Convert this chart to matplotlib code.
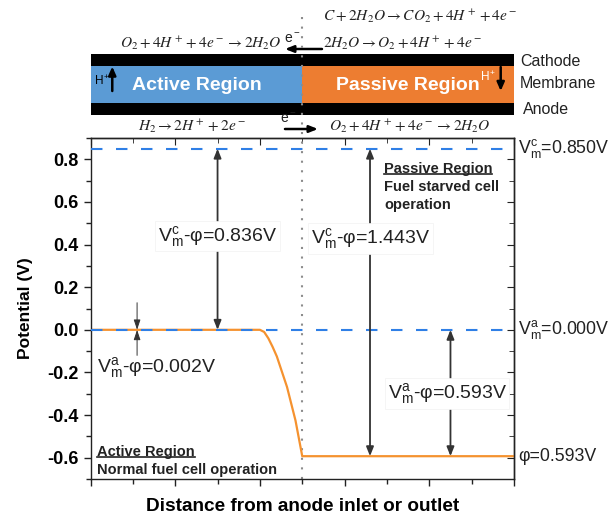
import matplotlib
matplotlib.use('Agg')
import matplotlib.pyplot as plt
from matplotlib.patches import Rectangle
from matplotlib.lines import Line2D
from matplotlib.ticker import MultipleLocator, FormatStrFormatter

plt.rcParams['font.family'] = ['Liberation Sans', 'DejaVu Sans']
plt.rcParams['mathtext.fontset'] = 'custom'
plt.rcParams['mathtext.rm'] = 'Liberation Sans'
plt.rcParams['mathtext.it'] = 'Liberation Sans:italic'
plt.rcParams['mathtext.bf'] = 'Liberation Sans:bold'
plt.rcParams['axes.unicode_minus'] = False

# ---------------- data ----------------
distance = [0.0, 2.0, 2.05, 2.10, 2.15, 2.20, 2.32, 2.42, 2.50, 5.0]
potential = [0.0, 0.0, -0.010, -0.040, -0.080, -0.125, -0.268, -0.425, -0.593, -0.593]
vm_cathode = 0.850
vm_anode = 0.000
phi = -0.593
boundary = 2.5
x_range = (0.0, 5.0)
y_range = (-0.7, 0.9)

gap_x = [1.5, 3.3, 4.25]
gap_top = [vm_cathode, vm_cathode, vm_anode]
gap_bottom = [vm_anode, phi, phi]
gap_labels = [r'$\mathregular{V_m^c}$-φ=0.836V',
              r'$\mathregular{V_m^c}$-φ=1.443V',
              r'$\mathregular{V_m^a}$-φ=0.593V']
gap_label_x = [1.5, 3.31, 4.21]
gap_label_y = [0.44, 0.43, -0.30]

small_gap_x = 0.55
small_gap_label = r'$\mathregular{V_m^a}$-φ=0.002V'

right_labels = [r'$\mathregular{V_m^c}$=0.850V', r'$\mathregular{V_m^a}$=0.000V', 'φ=0.593V']
right_label_y = [vm_cathode, vm_anode, phi]

passive_title = 'Passive Region'
passive_lines = ['Fuel starved cell', 'operation']
active_title = 'Active Region'
active_lines = ['Normal fuel cell operation']

eq_cath_active = r'$O_2+4H^+ +4e^-\rightarrow 2H_2O$'
eq_cath_passive1 = r'$C+2H_2O\rightarrow CO_2+4H^+ +4e^-$'
eq_cath_passive2 = r'$2H_2O\rightarrow O_2+4H^+ +4e^-$'
eq_anode_active = r'$H_2\rightarrow 2H^+ +2e^-$'
eq_anode_passive = r'$O_2+4H^+ +4e^-\rightarrow 2H_2O$'
layer_names = ['Cathode', 'Membrane', 'Anode']

BLUE_DASH = '#2F7FE6'
ORANGE_LINE = '#F5922F'
BLUE_FILL = '#5B9BD5'
ORANGE_FILL = '#ED7D31'
DOT_GRAY = '#8c8c8c'
TXT = '#222222'

# ---------------- figure ----------------
W_PX, H_PX = 613, 517
fig = plt.figure(figsize=(W_PX / 100, H_PX / 100), dpi=100)
L = 90.5 / W_PX
Wd = (514 - 90.5) / W_PX
B = (H_PX - 479) / H_PX
Hd = (479 - 138) / H_PX
ax = fig.add_axes([L, B, Wd, Hd])

ax.plot(distance, potential, color=ORANGE_LINE, lw=1.6, zorder=2)
ax.plot(x_range, [vm_cathode] * 2, color=BLUE_DASH, lw=1.5, dashes=(5.5, 6.5), zorder=3)
ax.plot(x_range, [vm_anode] * 2, color=BLUE_DASH, lw=1.5, dashes=(5.5, 6.5), zorder=3)
ax.axvline(boundary, color=DOT_GRAY, lw=1.5, ls=(0, (1, 3.6)), zorder=1)

ax.set_xlim(*x_range)
ax.set_ylim(*y_range)
ax.xaxis.set_major_locator(MultipleLocator(1))
ax.xaxis.set_minor_locator(MultipleLocator(0.5))
ax.yaxis.set_major_locator(MultipleLocator(0.2))
ax.yaxis.set_minor_locator(MultipleLocator(0.1))
ax.yaxis.set_major_formatter(FormatStrFormatter('%.1f'))
ax.tick_params(axis='x', which='both', labelbottom=False, direction='out', color='#222')
ax.tick_params(axis='y', which='both', direction='out', color='#222')
ax.tick_params(which='major', length=5, width=1)
ax.tick_params(which='minor', length=3.5, width=1)
for lab in ax.get_yticklabels():
    lab.set_fontweight('bold')
    lab.set_fontsize(13)
for s in ax.spines.values():
    s.set_linewidth(1.0)
    s.set_color('#222')

secx = ax.secondary_xaxis('top')
secx.xaxis.set_major_locator(MultipleLocator(1))
secx.xaxis.set_minor_locator(MultipleLocator(0.5))
secx.tick_params(which='both', direction='in', labeltop=False, color='#222')
secx.tick_params(which='major', length=5)
secx.tick_params(which='minor', length=3.5)
secy = ax.secondary_yaxis('right')
secy.yaxis.set_major_locator(MultipleLocator(0.2))
secy.yaxis.set_minor_locator(MultipleLocator(0.1))
secy.tick_params(which='both', direction='in', labelright=False, color='#222')
secy.tick_params(which='major', length=5)
secy.tick_params(which='minor', length=3.5)
for sa in (secx, secy):
    for s in sa.spines.values():
        s.set_linewidth(1.0)
        s.set_color('#222')

ax.set_ylabel('Potential (V)', fontsize=12.5, fontweight='bold', labelpad=10)
ax.set_xlabel('Distance from anode inlet or outlet', fontsize=13.7, fontweight='bold', labelpad=9)

# double arrows + labels
for x, t, b_, lab, lx, ly in zip(gap_x, gap_top, gap_bottom, gap_labels, gap_label_x, gap_label_y):
    ax.annotate('', xy=(x, b_), xytext=(x, t),
                arrowprops=dict(arrowstyle='<|-|>,head_length=0.55,head_width=0.22',
                                color='#333333', lw=1.3, shrinkA=0, shrinkB=0, mutation_scale=10),
                zorder=4)
    ax.text(lx, ly, lab, ha='center', va='center', fontsize=14, color=TXT, zorder=6,
            bbox=dict(boxstyle='square,pad=0.15', fc='white', ec='#f2f2f2', lw=0.5))

# small gap arrows
ax.annotate('', xy=(small_gap_x, vm_anode), xytext=(small_gap_x, 0.127),
            arrowprops=dict(arrowstyle='-|>,head_length=0.6,head_width=0.2',
                            color='#333333', lw=0.7, shrinkA=0, shrinkB=0, mutation_scale=10), zorder=4)
ax.annotate('', xy=(small_gap_x, vm_anode), xytext=(small_gap_x, -0.12),
            arrowprops=dict(arrowstyle='-|>,head_length=0.6,head_width=0.2',
                            color='#333333', lw=0.7, shrinkA=0, shrinkB=0, mutation_scale=10), zorder=4)
ax.text(0.785, -0.175, small_gap_label, ha='center', va='center', fontsize=14, color=TXT, zorder=6)

# right-side labels
for lab, y in zip(right_labels, right_label_y):
    ax.text(5.045, y, lab, ha='left', va='center', fontsize=12.8, color=TXT, clip_on=False)

# region descriptions
t_p = ax.text(3.465, 0.755, passive_title, ha='left', va='center', fontsize=10.5,
              fontweight='bold', color=TXT)
for i, s in enumerate(passive_lines):
    ax.text(3.465, 0.67 - 0.085 * i, s, ha='left', va='center', fontsize=10.5,
            fontweight='bold', color=TXT)
t_a = ax.text(0.077, -0.571, active_title, ha='left', va='center', fontsize=10.5,
              fontweight='bold', color=TXT)
for i, s in enumerate(active_lines):
    ax.text(0.077, -0.656 - 0.085 * i, s, ha='left', va='center', fontsize=10.5,
            fontweight='bold', color=TXT)

# ---------------- schematic ----------------
axd = fig.add_axes([L, 1 - 138 / H_PX, Wd, 138 / H_PX])
axd.set_xlim(*x_range)
axd.set_ylim(138, 0)
axd.axis('off')
span = x_range[1] - x_range[0]
axd.add_patch(Rectangle((x_range[0], 54), span, 12, color='black', lw=0))
axd.add_patch(Rectangle((x_range[0], 103), span, 11.5, color='black', lw=0))
axd.add_patch(Rectangle((x_range[0], 66), boundary - x_range[0], 37, color=BLUE_FILL, lw=0))
axd.add_patch(Rectangle((boundary, 66), x_range[1] - boundary, 37, color=ORANGE_FILL, lw=0))
axd.plot([boundary, boundary], [17, 138], color=DOT_GRAY, lw=1.5, ls=(0, (1, 3.6)), zorder=5)

axd.text(1.257, 86, 'Active Region', ha='center', va='center', fontsize=14,
         fontweight='bold', color='white')
axd.text(3.75, 86, 'Passive Region', ha='center', va='center', fontsize=14,
         fontweight='bold', color='white')

harrow = dict(arrowstyle='-|>,head_length=0.5,head_width=0.22', color='black', lw=1.8,
              shrinkA=0, shrinkB=0, mutation_scale=10)
axd.annotate('', xy=(0.257, 66.5), xytext=(0.257, 91), arrowprops=harrow)
axd.text(0.136, 81.5, r'$\mathregular{H^+}$', ha='center', va='center', fontsize=8.5)
axd.annotate('', xy=(4.843, 91), xytext=(4.843, 67), arrowprops=harrow)
axd.text(4.69, 77, r'$\mathregular{H^+}$', ha='center', va='center', fontsize=8.5, color='white')

for name, y, x in zip(layer_names, [61, 84, 109], [5.071, 5.071, 5.106]):
    axd.text(x, y, name, ha='left', va='center', fontsize=11.5, color=TXT, clip_on=False)

eq_kw = dict(fontsize=11.1, color=TXT, math_fontfamily='stix', va='center')
axd.text(1.30, 43, eq_cath_active, ha='center', **eq_kw)
axd.text(2.745, 43, eq_cath_passive2, ha='left', **eq_kw)
axd.text(2.745, 16, eq_cath_passive1, ha='left', **eq_kw)
axd.text(1.204, 126, eq_anode_active, ha='center', **eq_kw)
axd.text(3.77, 126, eq_anode_passive, ha='center', **eq_kw)

earrow = dict(arrowstyle='-|>,head_length=0.5,head_width=0.2', color='black', lw=1.8,
              shrinkA=0, shrinkB=0, mutation_scale=10)
axd.text(2.38, 39, r'$\mathregular{e^-}$', ha='center', va='center', fontsize=10, color=TXT)
axd.annotate('', xy=(2.296, 49), xytext=(2.733, 49), arrowprops=earrow)
axd.text(2.34, 119, r'$\mathregular{e^-}$', ha='center', va='center', fontsize=10, color=TXT)
axd.annotate('', xy=(2.686, 129), xytext=(2.296, 129), arrowprops=earrow)

# underline region titles
fig.canvas.draw()
r = fig.canvas.get_renderer()
for t in (t_p, t_a):
    bb = t.get_window_extent(r)
    y = bb.y0 + 2
    fig.add_artist(Line2D([bb.x0, bb.x1], [y, y], transform=None, color=TXT, lw=1.2))

fig.savefig('out.png', dpi=100)
